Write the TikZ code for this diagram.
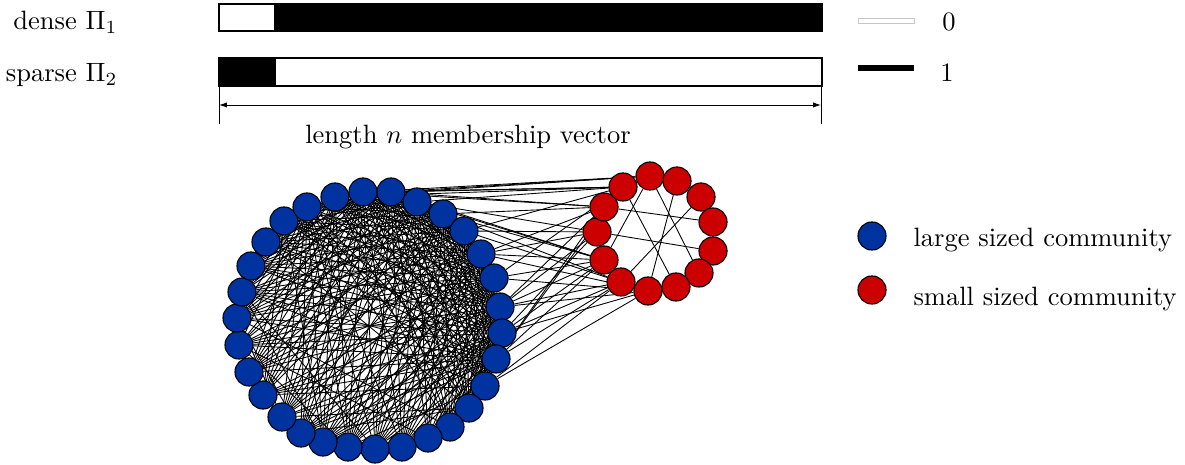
\documentclass[tikz,border=0pt]{standalone}
\usetikzlibrary{backgrounds,arrows.meta}
\definecolor{bnode}{RGB}{0,51,160}
\definecolor{rnode}{RGB}{204,0,0}
\begin{document}
\begin{tikzpicture}[x=0.3774pt,y=-0.3774pt,
  vtx/.style={circle,draw=black,line width=0.4pt,minimum size=10.6pt,inner sep=0pt},
  bv/.style={vtx,fill=bnode},
  rv/.style={vtx,fill=rnode},
  edge/.style={line width=0.33pt},
  barline/.style={line width=1.1pt},
  thinline/.style={line width=0.35pt}]
\useasboundingbox (0,0) rectangle (1185,465);

% bars
\fill[black] (274,4) rectangle (822,31);
\draw[barline] (219,4) rectangle (822,31);
\fill[black] (219,58) rectangle (276,86);
\draw[barline] (219,58) rectangle (822,86);
\node[anchor=east,inner sep=0pt] (dense) at (118,22) {dense $\Pi_1$};
\node[anchor=east,inner sep=0pt] (sparse) at (118,75) {sparse $\Pi_2$};

% dimension line
\coordinate (dl) at (219,105);
\coordinate (dr) at (821,105);
\draw[thinline,{Latex[length=3pt,width=2pt]}-{Latex[length=3pt,width=2pt]}] (dl) -- (dr);
\draw[thinline] (219,86) -- (219,124);
\draw[thinline] (821,86) -- (821,124);
\node (len) at (468,137) {length $n$ membership vector};

% legend 0/1
\draw[gray!45,line width=0.35pt,fill=white] (858,18) rectangle (914,23);
\draw[line width=1.9pt] (858,68) -- (914,68);
\node (zero) at (949,22) {0};
\node (one) at (947,73) {1};

% legend communities
\node[bv] (lb) at (872,236) {};
\node[rv] (lr) at (872,290) {};
\node[anchor=west,inner sep=0pt] (lbt) at (913,240) {large sized community};
\node[anchor=west,inner sep=0pt] (lrt) at (913,299) {small sized community};

% blue nodes
\foreach \n/\x/\y in {0/335/197,1/363/192,2/391/192,3/417/202,4/443/214,5/464/231,
  6/481/254,7/494/278,8/500/307,9/502/333,10/496/359,11/485/386,12/469/408,
  13/450/427,14/428/438,15/402/447,16/375/449,17/348/447,18/323/442,19/301/433,
  20/282/417,21/263/395,22/249/372,23/239/345,24/237/318,25/242/292,26/251/266,
  27/266/242,28/284/221,29/307/207}
  \node[bv] (b\n) at (\x,\y) {};

% red nodes
\foreach \n/\x/\y in {0/650/176,1/677/181,2/701/197,3/713/222,4/713/251,5/699/273,
  6/676/287,7/648/291,8/621/282,9/604/260,10/597/232,11/604/207,12/623/187}
  \node[rv] (r\n) at (\x,\y) {};

\begin{pgfonlayer}{background}
  \pgfmathsetseed{2718}
  \foreach \i in {0,...,27}{
    \pgfmathtruncatemacro\js{\i+2}
    \foreach \j in {\js,...,29}{
      \pgfmathtruncatemacro\hi{or(\i<=10,\i==29)}
      \pgfmathtruncatemacro\hj{or(\j<=10,\j==29)}
      \pgfmathsetmacro\p{ifthenelse(or(\hi==1,\hj==1),0.93,0.12)}
      \pgfmathtruncatemacro\c{rnd<\p}
      \ifnum\c=1
        \ifnum\i=0 \ifnum\j=29 \else \draw[edge] (b\i) -- (b\j); \fi
        \else \draw[edge] (b\i) -- (b\j); \fi
      \fi
    }
  }
  % red internal
  \foreach \a/\b in {12/6,0/5,0/9,1/7,2/8,11/3,10/4}
    \draw[edge] (r\a) -- (r\b);
  % blue-red
  \foreach \a/\b in {1/0,1/12,2/12,2/11,3/12,3/10,4/11,4/9,5/12,5/10,5/8,6/11,6/10,
    6/9,7/12,7/9,7/7,8/11,8/10,8/9,8/8,8/7,9/10,9/9,9/8,10/12,10/11,10/9,10/8,
    0/0,3/9,2/9,4/8,6/7,9/7,11/8,11/7,0/12,2/0,1/11}
    \draw[edge] (b\a) -- (r\b);
\end{pgfonlayer}
\end{tikzpicture}
\end{document}
